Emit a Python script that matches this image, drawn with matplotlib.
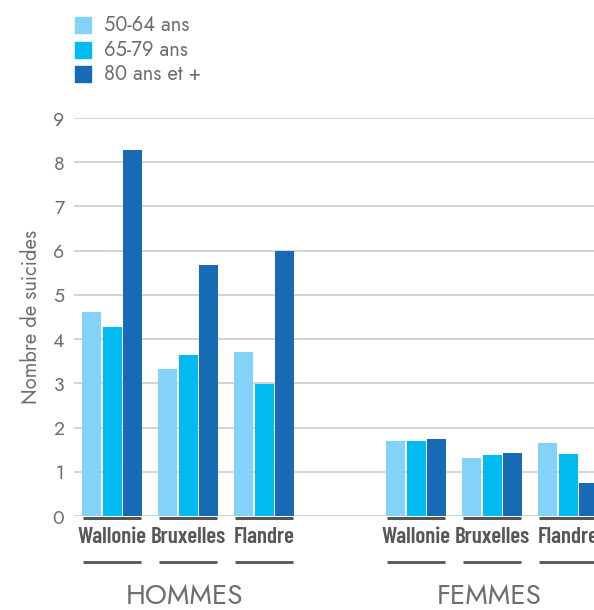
import matplotlib
matplotlib.use("Agg")
import matplotlib.pyplot as plt
import matplotlib.transforms as mt
from matplotlib.patches import Rectangle
from matplotlib import font_manager as fm
import numpy as np

# ---- data ----
regions = ["Wallonie", "Bruxelles", "Flandre"]
sexes = ["HOMMES", "FEMMES"]
series_labels = ["50-64 ans", "65-79 ans", "80 ans et +"]
hommes_50_64 = [4.62, 3.33, 3.70]
hommes_65_79 = [4.28, 3.63, 2.98]
hommes_80 = [8.27, 5.67, 5.99]
femmes_50_64 = [1.70, 1.32, 1.66]
femmes_65_79 = [1.70, 1.39, 1.41]
femmes_80 = [1.73, 1.43, 0.75]
yticks = [0, 1, 2, 3, 4, 5, 6, 7, 8, 9]

colors = ["#82d3f7", "#00bbef", "#166bb4"]
txt_gray = "#575757"
light_gray = "#6e6e6e"

names = {f.name for f in fm.fontManager.ttflist}
cond = [n for n in ["Barlow Condensed", "Roboto Condensed", "DejaVu Sans"] if n in names]
light = [n for n in ["Jost", "Lato", "DejaVu Sans"] if n in names]

W, H = 594, 610
fig = plt.figure(figsize=(W / 100, H / 100), dpi=100)
ax_left, ax_bottom_px, ax_top_px = 74, 516, 118
ax = fig.add_axes([ax_left / W, (H - ax_bottom_px) / H, 1 - ax_left / W,
                   (ax_bottom_px - ax_top_px) / H])

positions = [0, 1, 2, 4, 5, 6]
s1 = hommes_50_64 + femmes_50_64
s2 = hommes_65_79 + femmes_65_79
s3 = hommes_80 + femmes_80
x = np.array(positions, dtype=float)
bw = 0.25
off = 0.27
for vals, o, c in zip([s1, s2, s3], [-off, 0, off], colors):
    ax.bar(x + o, vals, width=bw, color=c, zorder=3)

ax.set_ylim(0, 9)
ax.set_xlim(-0.5, -0.5 + (W - ax_left) / 76)
ax.set_yticks(yticks)
ax.yaxis.grid(True, color="#c8c8c8", linewidth=1.1, zorder=0)
ax.set_axisbelow(True)
for s in ax.spines.values():
    s.set_visible(False)
ax.tick_params(axis="y", length=0, pad=7, labelsize=14, labelcolor=light_gray)
for lab in ax.get_yticklabels():
    lab.set_family(light)
ax.set_xticks([])
ax.set_ylabel("Nombre de suicides", fontsize=14.5, color=light_gray,
              family=light, labelpad=8)

trans = mt.blended_transform_factory(ax.transData, ax.transAxes)
axh = ax_bottom_px - ax_top_px
for p, reg in zip(positions, regions * 2):
    ax.plot([p - 0.385, p + 0.385], [-1.5 / axh, -1.5 / axh], color="#555555",
            lw=2.2, transform=trans, clip_on=False, solid_capstyle="butt", zorder=4)
    ax.plot([p - 0.385, p + 0.385], [-46 / axh, -46 / axh], color="#555555",
            lw=2.0, transform=trans, clip_on=False, solid_capstyle="butt")
    ax.text(p, -21 / axh, reg, transform=trans, ha="center", va="center",
            fontsize=16.5, fontweight="semibold", color=txt_gray, family=cond)
for center, sx in zip([1, 5], sexes):
    ax.text(center - 0.04, -80 / axh, sx, transform=trans, ha="center", va="center",
            fontsize=20, color=light_gray, family=light)

# legend
for i, (lab, c) in enumerate(zip(series_labels, colors)):
    yc = 25 + i * 24.5
    fig.patches.append(Rectangle((75 / W, 1 - (yc + 8) / H), 16 / W, 16 / H,
                                 transform=fig.transFigure, color=c))
    fig.text(104 / W, 1 - yc / H, lab, ha="left", va="center", fontsize=14.5,
             color=light_gray, family=light)

fig.savefig("out.png", dpi=100)
